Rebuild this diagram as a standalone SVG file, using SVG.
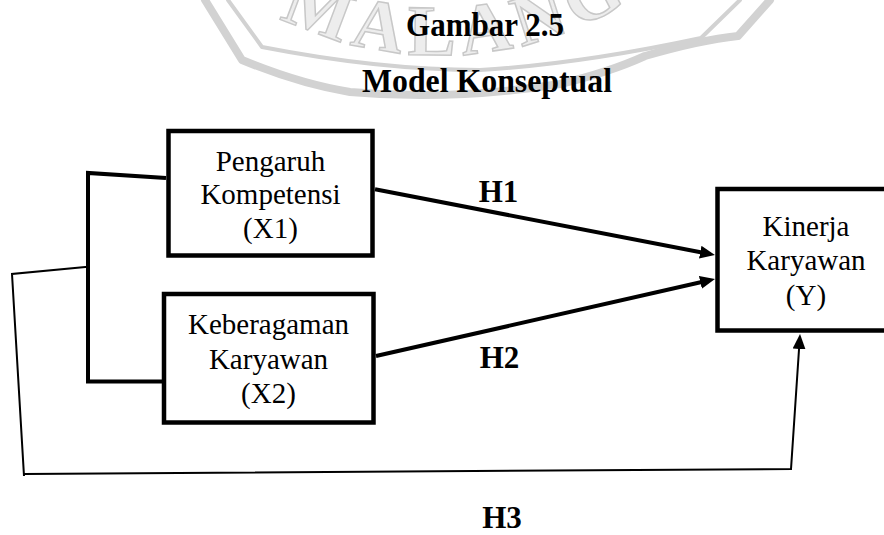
<svg xmlns="http://www.w3.org/2000/svg" width="884" height="535" viewBox="0 0 884 535">
  <style>
    .title { font-family: "Liberation Serif", "Times New Roman", serif; font-weight: bold; font-size: 34px; fill: #000; text-anchor: middle; }
    .node-box { fill: #fff; stroke: #000; stroke-width: 4.5; }
    .node-text { font-family: "Liberation Serif", "Times New Roman", serif; font-size: 29px; fill: #000; text-anchor: middle; }
    .label { font-family: "Liberation Serif", "Times New Roman", serif; font-weight: bold; font-size: 31px; fill: #000; text-anchor: middle; }
    .thick { fill: none; stroke: #000; stroke-width: 4; stroke-linejoin: miter; }
    .thin { fill: none; stroke: #000; stroke-width: 2; stroke-linejoin: miter; }
    .wm-band { fill: none; stroke: #d2d2d2; stroke-linecap: round; stroke-linejoin: round; }
    .wm-text { font-family: "Liberation Serif", "Times New Roman", serif; font-weight: bold; font-size: 72px; fill: #ededed; stroke: #c8c8c8; stroke-width: 1.5; letter-spacing: 7px; }
  </style>
  <defs>
    <marker id="arrow" markerUnits="userSpaceOnUse" markerWidth="16" markerHeight="14" refX="7" refY="6.5" orient="auto">
      <path d="M0,0 L15,6.5 L0,13 Z" fill="#000"/>
    </marker>
    <path id="wm-arc" d="M 230 -13 A 357.5 357.5 0 0 0 680 -37.5"/>
  </defs>

  <rect width="884" height="535" fill="#fff"/>

  <g id="watermark">
    <path class="wm-band" stroke-width="8" d="M 205 0 L 242 60 Q 300 84 350 92 Q 450 101 560 84 Q 610 72 645 56 Q 700 40 738 36 L 770 0"/>
    <path class="wm-band" stroke-width="4" d="M 228 0 L 262 47 Q 380 70 480 70 Q 580 64 701 38 L 740 0"/>
    <text class="wm-text"><textPath href="#wm-arc" startOffset="58">MALANG</textPath></text>
  </g>

  <g id="title">
    <text class="title" x="485" y="36" textLength="158" lengthAdjust="spacingAndGlyphs">Gambar 2.5</text>
    <text class="title" x="487" y="92" textLength="250" lengthAdjust="spacingAndGlyphs">Model Konseptual</text>
  </g>

  <g id="connectors">
    <path id="bracket" class="thick" d="M 166 178 L 88 173 L 88 381.5 L 164 381.5"/>
    <path id="h1-edge" class="thick" d="M 375 189.3 L 707.1 253.5" marker-end="url(#arrow)"/>
    <path id="h2-edge" class="thick" d="M 376 356 L 707.2 280.8" marker-end="url(#arrow)"/>
    <path id="h3-edge" class="thin" d="M 88 266.7 L 12 274 L 24 476 M 24 474 L 791 469 L 799.5 342" marker-end="url(#arrow)"/>
  </g>

  <g id="node-x1">
    <rect class="node-box" x="168.5" y="131" width="204" height="124.5"/>
    <text class="node-text" x="270.5" y="170.5">Pengaruh</text>
    <text class="node-text" x="270.5" y="204">Kompetensi</text>
    <text class="node-text" x="270.5" y="238">(X1)</text>
  </g>

  <g id="node-x2">
    <rect class="node-box" x="164" y="294" width="209.5" height="128.5"/>
    <text class="node-text" x="268.5" y="334">Keberagaman</text>
    <text class="node-text" x="268.5" y="368.5">Karyawan</text>
    <text class="node-text" x="268.5" y="403">(X2)</text>
  </g>

  <g id="node-y">
    <rect class="node-box" x="717.5" y="189" width="177" height="141.5"/>
    <text class="node-text" x="806" y="236">Kinerja</text>
    <text class="node-text" x="806" y="270">Karyawan</text>
    <text class="node-text" x="806" y="305">(Y)</text>
  </g>

  <g id="labels">
    <text class="label" x="498.5" y="202">H1</text>
    <text class="label" x="499.5" y="368">H2</text>
    <text class="label" x="502" y="528">H3</text>
  </g>
</svg>
